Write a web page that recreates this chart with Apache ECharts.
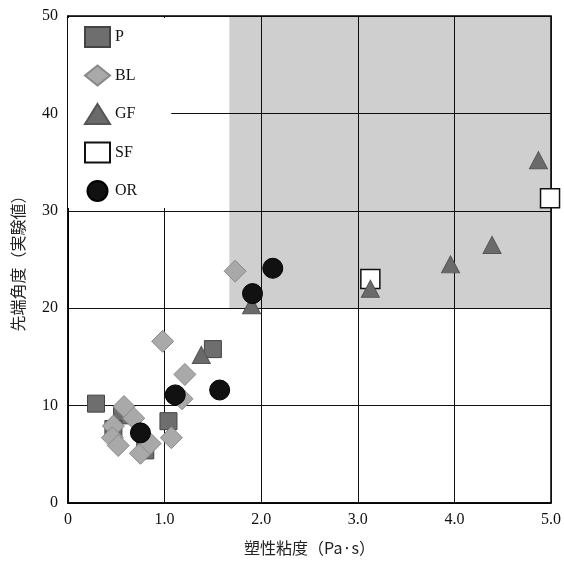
<!DOCTYPE html>
<html>
<head>
<meta charset="utf-8">
<script src="https://cdn.jsdelivr.net/npm/echarts@6/dist/echarts.min.js"></script>
<style>
  html, body { margin: 0; padding: 0; background: #fff; }
  #main { width: 564px; height: 563px; }
</style>
</head>
<body>
<div id="main"></div>
<script>
// 各試料の [塑性粘度, 先端角度]
const pData  = [[0.29, 10.2], [0.56, 9.0], [0.47, 7.6], [0.80, 5.4], [1.04, 8.4], [1.50, 15.8]];
const blData = [[0.58, 9.9], [0.68, 8.7], [0.47, 7.9], [0.46, 6.7], [0.52, 5.9], [0.75, 5.1],
                [0.85, 6.1], [1.07, 6.7], [0.98, 16.6], [1.21, 13.2], [1.18, 10.7], [1.73, 23.8]];
const gfData = [[1.38, 15.2], [1.90, 20.3], [3.13, 22.0], [3.96, 24.5], [4.39, 26.5], [4.87, 35.2]];
const sfData = [[3.13, 23.0], [4.99, 31.3]];
const orData = [[0.75, 7.2], [1.11, 11.1], [1.57, 11.6], [1.91, 21.5], [2.12, 24.1]];

const legendNames = ['P', 'BL', 'GF', 'SF', 'OR'];
const shadeX = [1.67, 5.0];
const shadeY = [20, 50];

const serif = '"Liberation Serif", "DejaVu Serif", serif';
const cjk = '"Noto Sans CJK JP", sans-serif';

var chart = echarts.init(document.getElementById('main'));

const option = {
  animation: false,
  grid: {
    left: 68, right: 12, top: 16, bottom: 60,
    show: true, borderColor: '#000', borderWidth: 1.5
  },
  legend: {
    data: legendNames,
    orient: 'vertical',
    left: 68, top: 18,
    backgroundColor: '#fff',
    padding: [8, 34, 6, 16],
    itemGap: 16.5,
    itemWidth: 25, itemHeight: 20,
    textStyle: { fontFamily: serif, fontSize: 16, lineHeight: 18, color: '#111' }
  },
  xAxis: {
    type: 'value', min: 0, max: 5, interval: 1,
    name: '塑性粘度（Pa·s）',
    nameLocation: 'middle', nameGap: 37,
    nameTextStyle: { fontFamily: cjk, fontSize: 16, color: '#222' },
    axisLine: { lineStyle: { color: '#000', width: 1.5 } },
    axisTick: { show: false },
    axisLabel: {
      margin: 9, fontFamily: serif, fontSize: 16, color: '#111',
      formatter: v => v === 0 ? '0' : v.toFixed(1)
    },
    splitLine: { lineStyle: { color: '#111', width: 1 } }
  },
  yAxis: {
    type: 'value', min: 0, max: 50, interval: 10,
    name: '先端角度（実験値）',
    nameLocation: 'middle', nameGap: 42,
    nameTextStyle: { fontFamily: cjk, fontSize: 16, color: '#222' },
    axisLine: { lineStyle: { color: '#000', width: 1.5 } },
    axisTick: { show: false },
    axisLabel: { margin: 10, fontFamily: serif, fontSize: 16, color: '#111' },
    splitLine: { lineStyle: { color: '#111', width: 1 } }
  },
  series: [
    {
      name: 'P', type: 'scatter', z: 2,
      symbol: 'rect', symbolSize: 17,
      itemStyle: { color: '#6e6e6e', borderColor: '#444', borderWidth: 1, opacity: 1 },
      data: pData,
      markArea: {
        silent: true,
        itemStyle: { color: 'rgba(0,0,0,0.19)' },
        data: [[{ coord: [shadeX[0], shadeY[0]] }, { coord: [shadeX[1], shadeY[1]] }]]
      }
    },
    {
      name: 'BL', type: 'scatter', z: 3,
      symbol: 'diamond', symbolSize: [22, 22],
      itemStyle: { color: '#a9a9a9', borderColor: '#888', borderWidth: 1, opacity: 1 },
      data: blData
    },
    {
      name: 'GF', type: 'scatter', z: 5,
      symbol: 'triangle', symbolSize: [18, 17],
      itemStyle: { color: '#6a6a6a', borderColor: '#555', borderWidth: 1, opacity: 1 },
      data: gfData
    },
    {
      name: 'SF', type: 'scatter', z: 4,
      symbol: 'rect', symbolSize: 19,
      itemStyle: { color: '#fff', borderColor: '#111', borderWidth: 1.5, opacity: 1 },
      data: sfData
    },
    {
      name: 'OR', type: 'scatter', z: 6,
      symbol: 'circle', symbolSize: 20,
      itemStyle: { color: '#111', borderColor: '#000', borderWidth: 1, opacity: 1 },
      data: orData
    }
  ]
};

chart.setOption(option);
</script>
</body>
</html>
